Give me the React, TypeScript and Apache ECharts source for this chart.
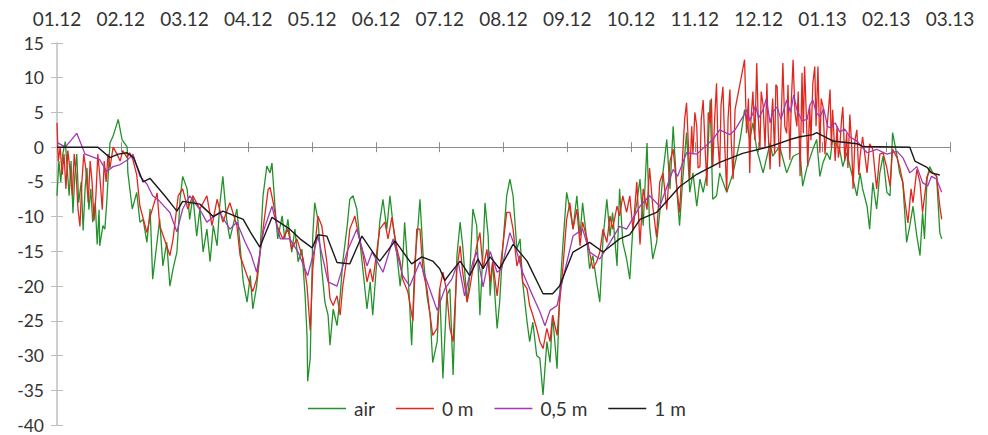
import React, { useEffect, useRef } from 'react';
import * as echarts from 'echarts';

const monthLabels = ['01.12', '02.12', '03.12', '04.12', '05.12', '06.12', '07.12', '08.12', '09.12', '10.12', '11.12', '12.12', '01.13', '02.13', '03.13'];
const seriesNames = ['air', '0 m', '0,5 m', '1 m'];

// [month index since 01.12, temperature °C]
const airData: [number, number][] = [
  [0, -7], [0.03, -2], [0.06, -5], [0.09, -1], [0.13, 0.8], [0.16, -3], [0.19, -7], [0.22, -2], [0.25, -9.5], [0.28, -4],
  [0.31, -1], [0.34, -8], [0.38, -5], [0.41, -12], [0.44, -6], [0.47, -3], [0.5, -9], [0.53, -6], [0.56, -10.8], [0.6, -8],
  [0.63, -14], [0.66, -9], [0.67, -14.2], [0.72, -11.3], [0.75, -11.8], [0.78, -8], [0.83, 0.6], [0.88, 1.6], [0.96, 4], [1.02, 1.1],
  [1.1, 0], [1.11, -3.6], [1.18, -8.9], [1.25, -6.5], [1.3, -10.8], [1.35, -10.4], [1.41, -13.7], [1.46, -8.9], [1.5, -19], [1.61, -10.4],
  [1.66, -17.1], [1.72, -13.7], [1.77, -20], [1.82, -17.5], [1.88, -15.1], [1.93, -7.5], [1.97, -4.2], [2.04, -6], [2.08, -10.4], [2.13, -7],
  [2.19, -12.8], [2.24, -8.9], [2.29, -15.1], [2.35, -11.8], [2.4, -16.5], [2.45, -11.3], [2.51, -14.2], [2.55, -8.5], [2.6, -4.2], [2.66, -10.4],
  [2.71, -13.2], [2.76, -11.3], [2.82, -8.9], [2.87, -14.2], [2.92, -19.4], [2.98, -22.3], [3.03, -18.5], [3.07, -23.3], [3.13, -20], [3.18, -15.6],
  [3.23, -7], [3.29, -2.7], [3.34, -3.7], [3.37, -2.3], [3.42, -8.9], [3.46, -13.2], [3.53, -9.9], [3.57, -13.2], [3.62, -10.4], [3.68, -15.1],
  [3.73, -11.8], [3.78, -16.5], [3.84, -14.7], [3.89, -21.4], [3.92, -27.1], [3.93, -33.7], [3.97, -30.4], [4.01, -12.8], [4.04, -8], [4.09, -10.4],
  [4.15, -17.5], [4.2, -22.3], [4.25, -24.2], [4.28, -28.5], [4.33, -23.3], [4.39, -25.7], [4.44, -21.4], [4.48, -16.5], [4.55, -11.3], [4.59, -7.5],
  [4.64, -7], [4.7, -8.9], [4.75, -13.7], [4.8, -18], [4.86, -23.3], [4.91, -19.4], [4.95, -24.2], [5.02, -15.6], [5.06, -10.8], [5.11, -7.5],
  [5.17, -11.8], [5.22, -7], [5.27, -11.3], [5.33, -15.6], [5.38, -20], [5.42, -16.5], [5.45, -10.8], [5.5, -17.5], [5.56, -28.5], [5.61, -16.5],
  [5.66, -11.3], [5.69, -7.5], [5.74, -15.6], [5.8, -21.4], [5.85, -24.2], [5.89, -31], [5.96, -28], [6.0, -20.4], [6.05, -33.3], [6.11, -21.4],
  [6.16, -20.4], [6.21, -32.8], [6.27, -15.6], [6.32, -10.8], [6.36, -14.2], [6.43, -22.3], [6.47, -18.5], [6.52, -8.9], [6.58, -11.3], [6.63, -24.2],
  [6.68, -14.7], [6.71, -8], [6.76, -12.8], [6.79, -21.4], [6.83, -16.5], [6.9, -26.1], [6.94, -22.3], [6.99, -14.2], [7.05, -7], [7.1, -4.6],
  [7.15, -7], [7.21, -14.7], [7.26, -13.2], [7.3, -19.4], [7.37, -25.2], [7.41, -28], [7.46, -25.2], [7.52, -30], [7.57, -30.4], [7.62, -35.7],
  [7.68, -28], [7.73, -31], [7.77, -24.2], [7.84, -31.9], [7.88, -21.4], [7.93, -14.2], [7.99, -6.5], [8.04, -8.9], [8.09, -11.8], [8.15, -7],
  [8.2, -12.8], [8.24, -8], [8.31, -13.7], [8.35, -17.5], [8.4, -15.6], [8.46, -19.4], [8.51, -22.3], [8.56, -13.2], [8.62, -7.5], [8.67, -12.8],
  [8.71, -9.4], [8.78, -17.1], [8.82, -6], [8.87, -13.7], [8.93, -16.1], [8.98, -19], [9.03, -11.3], [9.09, -8], [9.14, -4.6], [9.19, -11.3],
  [9.25, 0.6], [9.29, -11.3], [9.34, -16.1], [9.4, -13.7], [9.45, -9.4], [9.5, -3.7], [9.56, 1.1], [9.61, -6], [9.66, 3], [9.72, -6.5],
  [9.76, -11.3], [9.81, -4.6], [9.87, 2.1], [9.92, -6.5], [9.97, -3.7], [10.03, -8.5], [10.08, -4.6], [10.13, -6.5], [10.19, -3.7], [10.24, 6.8],
  [10.28, -7.5], [10.34, -7], [10.39, -3.7], [10.5, -6.5], [10.6, -3.7], [10.71, 1.1], [10.78, 5.4], [10.86, 1.1], [10.91, 3.5], [10.97, -0.3],
  [11.07, -3.7], [11.18, 0.6], [11.22, -1.3], [11.33, 0.1], [11.44, -3.7], [11.54, -1.3], [11.65, -0.8], [11.69, -5.6], [11.76, -2.8], [11.85, -0.3],
  [11.91, 1.1], [11.96, -4.2], [12.01, -2.2], [12.07, -0.8], [12.12, -1.8], [12.16, 1.1], [12.27, -0.3], [12.32, -2.8], [12.38, -0.8], [12.48, -4.6],
  [12.54, -7], [12.59, -3.7], [12.63, -6], [12.7, -8.5], [12.74, -11.8], [12.79, -5.1], [12.85, -8.9], [12.9, -3.7], [12.95, -1.3], [13.01, -6.5],
  [13.06, -7], [13.1, 2.1], [13.17, -1.3], [13.21, -3.7], [13.26, -5.1], [13.32, -13.7], [13.37, -11.3], [13.42, -8.5], [13.48, -12.8], [13.53, -15.6],
  [13.57, -9.4], [13.6, -13.2], [13.64, -4.6], [13.68, -2.8], [13.73, -3.7], [13.79, -4.2], [13.84, -12.3], [13.87, -13.2],
];

const m0Data: [number, number][] = [
  [0, 3.5], [0.02, -2], [0.05, 0], [0.08, -4], [0.11, -1], [0.14, -6], [0.17, -0.5], [0.2, -3], [0.24, -7], [0.27, -1],
  [0.3, -4], [0.33, -9], [0.36, -11.4], [0.39, -5], [0.42, -1], [0.45, -3], [0.49, -8], [0.52, -2], [0.55, -5], [0.58, -10.6],
  [0.61, -7], [0.64, -1], [0.67, -4], [0.71, -9], [0.74, -2], [0.77, -5], [0.8, -1], [0.83, -3], [0.88, 0], [0.94, -1],
  [0.99, -2], [1.03, -0.5], [1.1, -1.5], [1.14, -0.8], [1.19, -1.8], [1.25, -4], [1.3, -8.5], [1.41, -12.3], [1.46, -10], [1.57, -6.6],
  [1.61, -11.3], [1.72, -14.2], [1.77, -15.6], [1.82, -13.2], [1.9, -7], [1.97, -6], [2.05, -8.9], [2.13, -7], [2.24, -8.9], [2.35, -7],
  [2.43, -11.3], [2.51, -7.5], [2.6, -10.8], [2.71, -8], [2.82, -11.3], [2.87, -15.6], [2.98, -18.5], [3.07, -20.8], [3.13, -19], [3.23, -11.8],
  [3.31, -6.1], [3.34, -5.8], [3.39, -8], [3.45, -11.3], [3.54, -13.2], [3.62, -11.8], [3.68, -14.7], [3.76, -13.2], [3.86, -16.1], [3.92, -20],
  [3.97, -26.4], [4.01, -17.5], [4.09, -9.9], [4.15, -11.3], [4.23, -16.5], [4.28, -21.8], [4.33, -22.8], [4.39, -21.4], [4.44, -24.2], [4.48, -20],
  [4.55, -15.6], [4.59, -11.8], [4.67, -9.9], [4.72, -12.3], [4.8, -15.6], [4.86, -19.4], [4.91, -17.5], [4.95, -19.4], [5.06, -11.8], [5.14, -10.8],
  [5.19, -13.2], [5.25, -10.1], [5.33, -14.7], [5.38, -16.5], [5.42, -19], [5.5, -20.8], [5.58, -25], [5.64, -11.8], [5.69, -11.8], [5.74, -18],
  [5.8, -20.4], [5.85, -24.2], [5.89, -27.1], [5.96, -26.1], [6.0, -20.4], [6.05, -18], [6.11, -20.8], [6.16, -26.1], [6.21, -28], [6.27, -17.5],
  [6.32, -14.2], [6.36, -18], [6.43, -22.3], [6.47, -20.4], [6.52, -17.5], [6.58, -14.2], [6.63, -12.3], [6.68, -17.5], [6.74, -14.7], [6.79, -19.4],
  [6.83, -16.5], [6.9, -21.4], [6.94, -18], [6.99, -14.2], [7.05, -9.4], [7.1, -9.4], [7.15, -11.8], [7.21, -17.1], [7.26, -15.6], [7.3, -19.4],
  [7.37, -20.4], [7.41, -22.8], [7.46, -24.2], [7.52, -26.1], [7.57, -28], [7.62, -29], [7.68, -26.1], [7.73, -28], [7.77, -24.2], [7.84, -27.1],
  [7.88, -22.3], [7.93, -17.5], [7.99, -10.4], [8.04, -8], [8.09, -11.8], [8.15, -8.9], [8.2, -14.2], [8.24, -10.8], [8.31, -13.2], [8.35, -15.1],
  [8.4, -17.5], [8.46, -16.5], [8.51, -15.1], [8.56, -11.8], [8.62, -13.7], [8.67, -9.9], [8.71, -11.8], [8.78, -8.5], [8.82, -9.9], [8.87, -7],
  [8.93, -9.4], [8.98, -7], [9.03, -12], [9.09, -5], [9.14, -14], [9.19, -6], [9.25, -9], [9.29, -3], [9.34, -8.5], [9.4, -13],
  [9.45, -5], [9.5, -3.7], [9.56, -9], [9.61, -2], [9.66, -0.3], [9.72, -6], [9.76, -9.4], [9.81, -1], [9.84, 4], [9.87, 6.4],
  [9.9, 0], [9.92, -4.6], [9.95, 3], [9.97, -1], [10.0, 5], [10.03, 3], [10.05, -3], [10.08, -2.8], [10.1, 4], [10.13, 6.8],
  [10.16, 0], [10.19, -5.6], [10.21, 5], [10.24, 3.5], [10.26, 7], [10.28, -2.8], [10.31, 4], [10.34, 9.2], [10.36, 1], [10.39, -3],
  [10.41, 6], [10.44, 8.7], [10.47, 0], [10.5, -6.5], [10.52, 4], [10.55, 8.3], [10.57, 1], [10.6, -4.6], [10.63, 5.4], [10.78, 12.6],
  [10.81, 2], [10.84, 7], [10.86, -3.7], [10.88, 4], [10.91, 8], [10.94, 1], [10.97, 12.1], [10.99, 5], [11.02, -0.3], [11.04, 8],
  [11.07, 6], [11.1, 0], [11.13, 9.2], [11.15, 2], [11.18, -3.2], [11.2, 4], [11.22, 7], [11.25, -1], [11.27, 9], [11.29, 8.7],
  [11.31, 2], [11.33, -2.8], [11.36, 6], [11.38, 12.1], [11.41, 3], [11.44, 2], [11.46, 9], [11.49, -1.8], [11.51, 6], [11.54, 12.6],
  [11.57, 5], [11.6, 3], [11.62, 8], [11.65, -4.2], [11.68, 10.7], [11.7, 2], [11.72, 11.6], [11.75, 4], [11.77, -2.8], [11.8, 6],
  [11.82, 1], [11.85, 9.2], [11.88, 11.6], [11.9, 3], [11.93, 11.6], [11.96, -0.8], [11.98, 7], [12.01, 5.8], [12.04, -1], [12.07, 2.5],
  [12.1, 6], [12.12, 8.3], [12.14, 0], [12.16, 5.4], [12.2, -2], [12.23, 3], [12.25, -1.5], [12.27, -0.3], [12.3, 4], [12.32, 5.8],
  [12.35, -2], [12.38, 2], [12.4, -3], [12.43, 4.7], [12.46, 0], [12.48, -6], [12.51, 1], [12.54, 2.5], [12.57, -4], [12.59, -1.3],
  [12.63, 1.5], [12.7, -3.7], [12.74, 0.5], [12.79, -0.3], [12.85, -6], [12.9, -1], [12.95, -0.8], [13.01, -3], [13.06, -5.6], [13.1, -0.3],
  [13.17, -1.5], [13.21, -2.8], [13.26, -5], [13.29, -7.5], [13.34, -10.9], [13.39, -6], [13.42, -8], [13.48, -3.2], [13.53, -5.1], [13.57, -9.4],
  [13.64, -4.2], [13.68, -3.5], [13.73, -3.7], [13.79, -4.2], [13.84, -8.5], [13.87, -10.4],
];

const m05Data: [number, number][] = [
  [0, 0.7], [0.13, 0], [0.31, 2], [0.44, -1], [0.67, -1.8], [0.78, -3.5], [0.88, -2.8], [0.99, -2.5], [1.11, -1.8], [1.19, -1],
  [1.3, -4.2], [1.41, -5.3], [1.5, -7], [1.61, -7.8], [1.77, -9.4], [1.88, -12.2], [1.97, -8.9], [2.08, -7], [2.24, -9], [2.35, -10.8],
  [2.45, -10], [2.55, -9.4], [2.71, -11.8], [2.82, -10.8], [2.95, -13.7], [3.04, -15.4], [3.13, -18], [3.24, -12], [3.37, -8.5], [3.5, -13.2],
  [3.65, -13.2], [3.78, -15.1], [3.93, -18.5], [4.09, -12.8], [4.25, -19.4], [4.39, -20], [4.55, -15], [4.7, -11.8], [4.86, -17.1], [4.94, -15.1],
  [5.11, -18], [5.27, -13.2], [5.42, -18.5], [5.53, -20], [5.69, -16.5], [5.88, -21.4], [5.96, -23.5], [6.08, -20.4], [6.19, -19], [6.29, -16.5],
  [6.39, -21.4], [6.52, -16.5], [6.58, -15.1], [6.68, -20.1], [6.79, -15], [6.9, -18], [6.97, -17.5], [7.1, -12.3], [7.21, -15.1], [7.3, -18],
  [7.41, -20.4], [7.57, -23.7], [7.65, -25.7], [7.73, -23.5], [7.84, -22.8], [7.93, -19], [8.09, -12.8], [8.24, -11.8], [8.35, -15.1], [8.51, -16.1],
  [8.67, -13.7], [8.82, -11.4], [8.93, -11.8], [9.14, -8.5], [9.29, -7], [9.45, -8.5], [9.66, -3.2], [9.73, -4.2], [9.87, -0.8], [10.03, -1],
  [10.28, 1.1], [10.39, 2.5], [10.55, 1.8], [10.63, 2.5], [10.82, 5.4], [10.86, 3.8], [10.91, 4.9], [10.95, 6], [11.0, 4.2], [11.07, 5.4],
  [11.12, 7], [11.18, 3.5], [11.22, 5], [11.29, 5.8], [11.35, 4], [11.44, 6.8], [11.5, 5], [11.55, 7.5], [11.6, 5.4], [11.68, 3.8],
  [11.76, 4], [11.8, 6], [11.85, 6.8], [11.9, 5], [11.96, 4.4], [12.02, 5.5], [12.08, 3], [12.12, 2.8], [12.2, 3.5], [12.27, 2.2],
  [12.35, 2.6], [12.43, 1.5], [12.55, 0.8], [12.7, -0.8], [12.85, -0.3], [13.01, -1], [13.17, -0.6], [13.26, -1.5], [13.37, -3.7], [13.48, -2.8],
  [13.57, -5.1], [13.65, -5.6], [13.71, -4.2], [13.79, -4.6], [13.87, -6.5],
];

const m1Data: [number, number][] = [
  [0, 0], [0.64, 0], [0.83, -1.5], [0.96, -1], [1.1, -0.8], [1.2, -1.5], [1.35, -5], [1.46, -4.5], [1.69, -7], [1.88, -9.2],
  [1.97, -7.8], [2.24, -8.2], [2.45, -10], [2.6, -9.2], [2.92, -10.4], [3.03, -12.2], [3.18, -14.4], [3.37, -10.1], [3.65, -11.8], [3.81, -13.2],
  [4.0, -14.5], [4.09, -12.6], [4.23, -12.8], [4.39, -16.6], [4.59, -16.8], [4.78, -12.8], [4.98, -15.5], [5.06, -16.4], [5.3, -13.5], [5.56, -16.8],
  [5.72, -15.8], [5.89, -16.4], [6.0, -17.5], [6.08, -19.2], [6.16, -18.2], [6.32, -16.4], [6.47, -18.5], [6.6, -16.1], [6.68, -17.5], [6.79, -15.8],
  [6.94, -17.5], [7.15, -14], [7.37, -16.4], [7.62, -21.1], [7.77, -21.1], [7.88, -20], [8.09, -15.1], [8.35, -13.7], [8.56, -15.1], [8.82, -13.2],
  [8.98, -12.6], [9.14, -10.4], [9.4, -9.4], [9.76, -5.7], [10.03, -3.9], [10.39, -2.2], [10.75, -0.9], [11.18, 0.1], [11.49, 1.1], [11.65, 1.5],
  [11.85, 1.8], [11.91, 2.1], [12.16, 0.9], [12.54, 0.5], [12.63, 0.1], [13.37, 0], [13.45, -2], [13.64, -2.9], [13.71, -3.7], [13.84, -4],
];

const colors = ['#24922a', '#e2261e', '#a03ab4', '#1a1a1a'];
const FONT = 'Lato';

export default function App() {
  const ref = useRef<HTMLDivElement>(null);
  useEffect(() => {
    if (!ref.current) return;
    const chart = echarts.init(ref.current, null, { renderer: 'svg' });
    const xBase = { type: 'value', min: 0, max: 14, interval: 1, splitLine: { show: false } };
    chart.setOption({
      animation: false,
      backgroundColor: '#ffffff',
      grid: { left: 57, right: 38, top: 43, bottom: 10, containLabel: false },
      xAxis: [
        {
          ...xBase,
          position: 'bottom',
          axisLine: { show: true, onZero: true, lineStyle: { color: '#8c8c8c', width: 1 } },
          axisTick: { show: true, inside: false, length: 5, lineStyle: { color: '#8c8c8c' } },
          axisLabel: { show: false },
        },
        {
          ...xBase,
          position: 'bottom',
          axisLine: { show: true, onZero: true, lineStyle: { color: '#8c8c8c', width: 1 } },
          axisTick: { show: true, inside: true, length: 5, lineStyle: { color: '#8c8c8c' } },
          axisLabel: { show: false },
        },
        {
          ...xBase,
          position: 'top',
          axisLine: { show: false, onZero: false },
          axisTick: { show: false },
          axisLabel: {
            show: true,
            margin: 15,
            fontFamily: FONT,
            fontSize: 19,
            color: '#333333',
            formatter: (v: number) => monthLabels[Math.round(v)] ?? '',
          },
        },
      ],
      yAxis: [
        {
          type: 'value', min: -40, max: 15, interval: 5, position: 'left',
          splitLine: { show: false },
          axisLine: { show: true, lineStyle: { color: '#bfbfbf', width: 1.5 } },
          axisTick: { show: true, inside: false, length: 6, lineStyle: { color: '#bfbfbf' } },
          axisLabel: { margin: 13, fontFamily: FONT, fontSize: 17.5, lineHeight: 14, color: '#333333' },
        },
        {
          type: 'value', min: -40, max: 15, interval: 5, position: 'left',
          splitLine: { show: false },
          axisLine: { show: false },
          axisTick: { show: true, inside: true, length: 6, lineStyle: { color: '#bfbfbf' } },
          axisLabel: { show: false },
        },
      ],
      legend: {
        data: seriesNames,
        icon: 'rect',
        left: 302,
        top: 395,
        itemWidth: 38,
        itemHeight: 1.5,
        itemGap: 21,
        padding: [4, 6],
        backgroundColor: '#ffffff',
        textStyle: { fontFamily: FONT, fontSize: 19, color: '#333333', padding: [0, 0, 0, 3] },
      },
      series: [airData, m0Data, m05Data, m1Data].map((d, i) => ({
        name: seriesNames[i],
        type: 'line',
        xAxisIndex: 0,
        yAxisIndex: 0,
        data: d,
        symbol: 'none',
        showSymbol: false,
        smooth: false,
        lineStyle: { color: colors[i], width: i === 3 ? 1.4 : 1.3 },
        itemStyle: { color: colors[i] },
        z: 2 + i,
      })),
    });
    return () => chart.dispose();
  }, []);
  return (
    <div
      ref={ref}
      style={{ position: 'fixed', left: 0, top: 0, width: 988, height: 435, background: '#fff' }}
    />
  );
}
